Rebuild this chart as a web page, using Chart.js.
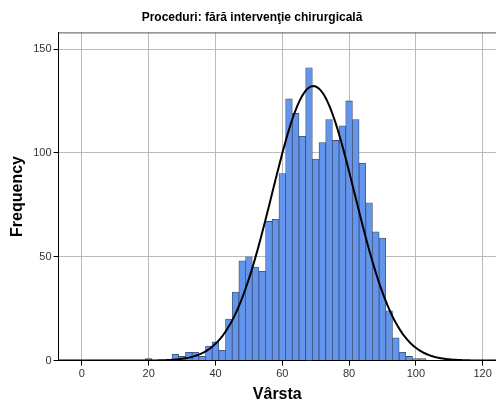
<!DOCTYPE html>
<html>
<head>
<meta charset="utf-8">
<script src="https://cdn.jsdelivr.net/npm/chart.js@4.4.0/dist/chart.umd.min.js"></script>
<style>
  html, body { margin: 0; padding: 0; background: #fff; }
  #wrap { width: 496px; height: 401px; }
</style>
</head>
<body>
<div id="wrap"><canvas id="histChart" width="496" height="401"></canvas></div>
<script>
// bin centres (years, width 2) and counts per bin
const varsta = [20, 22, 24, 26, 28, 30, 32, 34, 36, 38, 40, 42, 44, 46, 48, 50, 52, 54, 56, 58,
    60, 62, 64, 66, 68, 70, 72, 74, 76, 78, 80, 82, 84, 86, 88, 90, 92, 94, 96, 98, 100, 102];
const frecventa = [1, 0, 0, 0, 3, 2, 4, 4, 2, 7, 9, 5, 20, 33, 48, 50, 45, 43, 67, 68,
    90, 126, 119, 108, 141, 97, 105, 116, 106, 113, 125, 116, 95, 76, 62, 59, 24, 11, 4, 2, 1, 1];

// fitted normal curve parameters
const media = 69.3;
const abatereStd = 12.4;
const totalN = 2054;
const latimeBin = 2;

const xTicks = [0, 20, 40, 60, 80, 100, 120];
const yTicks = [0, 50, 100, 150];

const curbaX = [];
for (let x = -7; x <= 124; x += 0.5) curbaX.push(x);
const curba = curbaX.map(function(x) {
    const z = (x - media) / abatereStd;
    return { x: x, y: totalN * latimeBin * Math.exp(-0.5 * z * z) / (abatereStd * Math.sqrt(2 * Math.PI)) };
});

const bare = varsta.map(function(v, i) { return { x: v, y: frecventa[i] }; });

// top frame line of the plot area
const chenar = {
    id: 'chenar',
    afterDraw: function(chart) {
        const a = chart.chartArea;
        const ctx = chart.ctx;
        ctx.save();
        ctx.strokeStyle = '#555';
        ctx.lineWidth = 1;
        ctx.beginPath();
        ctx.moveTo(a.left, a.top + 0.5);
        ctx.lineTo(a.right, a.top + 0.5);
        ctx.stroke();
        ctx.restore();
    }
};

const font = 'Liberation Sans, Arial, sans-serif';

new Chart(document.getElementById('histChart').getContext('2d'), {
    type: 'bar',
    plugins: [chenar],
    data: {
        datasets: [{
            type: 'line',
            data: curba,
            borderColor: '#000',
            borderWidth: 2,
            pointRadius: 0,
            tension: 0,
            order: 0
        }, {
            type: 'bar',
            data: bare,
            backgroundColor: '#6495ed',
            borderColor: '#3d4d6e',
            borderWidth: 0.8,
            barPercentage: 1,
            categoryPercentage: 1,
            order: 1
        }]
    },
    options: {
        responsive: false,
        animation: false,
        layout: { padding: { left: 8, right: 0, top: 6, bottom: -3 } },
        plugins: {
            legend: { display: false },
            tooltip: { enabled: false },
            title: {
                display: true,
                text: 'Proceduri: fără intervenţie chirurgicală',
                color: '#000',
                font: { family: font, size: 12, weight: 'bold' },
                padding: { top: 4, bottom: 8 }
            }
        },
        scales: {
            x: {
                type: 'linear',
                min: -7,
                max: 124,
                offset: false,
                afterBuildTicks: function(axis) {
                    axis.ticks = xTicks.map(function(v) { return { value: v }; });
                },
                grid: { offset: false, color: '#bbb', tickColor: '#000', tickLength: 5 },
                border: { color: '#000', width: 1 },
                ticks: { color: '#333', font: { family: font, size: 11 }, padding: 2, maxRotation: 0 },
                title: {
                    display: true,
                    text: 'Vârsta',
                    color: '#000',
                    font: { family: font, size: 16, weight: 'bold' },
                    padding: { top: 2, bottom: 0 }
                }
            },
            y: {
                min: 0,
                max: 158,
                afterBuildTicks: function(axis) {
                    axis.ticks = yTicks.map(function(v) { return { value: v }; });
                },
                grid: { color: '#bbb', tickColor: '#000', tickLength: 5 },
                border: { color: '#000', width: 1 },
                ticks: { color: '#333', font: { family: font, size: 11 }, padding: 2 },
                title: {
                    display: true,
                    text: 'Frequency',
                    color: '#000',
                    font: { family: font, size: 16, weight: 'bold' },
                    padding: { top: 0, bottom: 4 }
                }
            }
        }
    }
});
</script>
</body>
</html>
